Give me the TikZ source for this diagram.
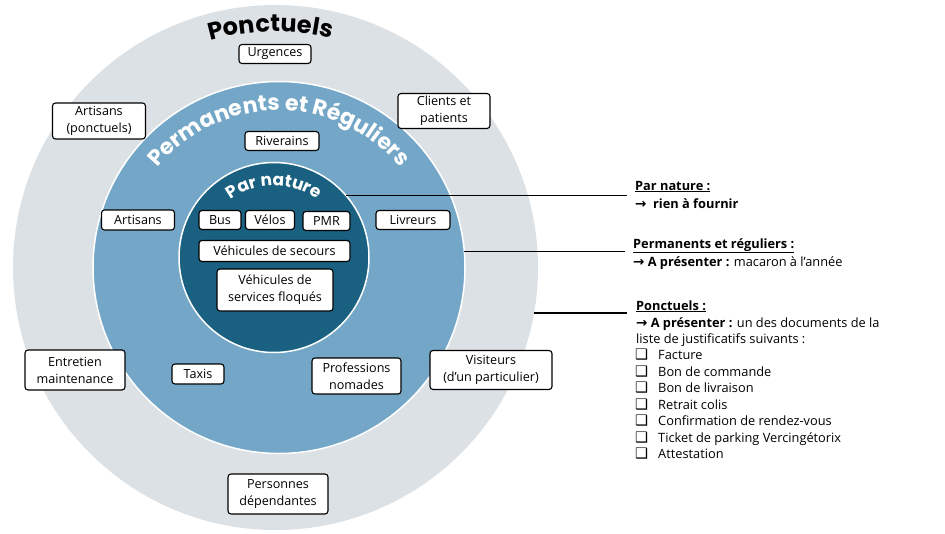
\documentclass[tikz,border=0pt]{standalone}
\usepackage{fontspec}
\setmainfont{Open Sans}
\newfontfamily\headfont{Poppins}
\newfontfamily\symfont{DejaVu Sans}
\usetikzlibrary{decorations.text,calc}
\definecolor{outerc}{RGB}{220,225,230}
\definecolor{midc}{RGB}{116,167,199}
\definecolor{innerc}{RGB}{26,96,128}
\begin{document}
\begin{tikzpicture}[x=1pt,y=-1pt,
  box/.style={draw=black, line width=1.1pt, fill=white, rounded corners=3pt, inner sep=0pt, align=center, font=\fontsize{12.6}{17}\selectfont},
  ring/.style={circle, inner sep=0pt, outer sep=0pt},
  leader/.style={draw=black, line width=1.2pt},
  rt/.style={anchor=base west, inner sep=0pt, font=\fontsize{12.8}{15}\selectfont},
  chk/.style={anchor=base west, inner sep=0pt, font=\symfont\fontsize{14.5}{14.5}\selectfont}]
\path[use as bounding box] (0,0) rectangle (945,533);
\begin{scope}
\clip (0,0) rectangle (945,533);
\node[ring, fill=outerc, minimum size=525pt] (outer) at (275.5,267.5) {};
\node[ring, fill=midc, draw=white, line width=1.5pt, minimum size=372pt] (mid) at (279,267.5) {};
\node[ring, fill=innerc, draw=white, line width=1.5pt, minimum size=190pt] (inner) at (274,257.5) {};
\end{scope}

% curved titles
\path[decorate, decoration={text along path, text align=center,
  text={|\headfont\bfseries\fontsize{24}{24}\selectfont|Ponctuels}}]
  ($(outer.center)+(238.8:236)$) arc[start angle=238.8, end angle=298.8, radius=236];
\path[decorate, decoration={text along path, text align=center,
  text={|\headfont\bfseries\fontsize{22}{22}\selectfont\color{white}|Permanents et Réguliers}}]
  ($(mid.center)+(195:157)$) arc[start angle=195, end angle=345, radius=157];
\path[decorate, decoration={text along path, text align=center,
  text={|\headfont\bfseries\fontsize{17}{17}\selectfont\color{white}|Par nature}}]
  ($(inner.center)+(200:72)$) arc[start angle=200, end angle=340, radius=72];

% boxes
\node[box, minimum width=72pt, minimum height=19pt] (urg) at (275,54) {Urgences};
\node[box, minimum width=93pt, minimum height=36pt] (artp) at (99,121) {Artisans\\(ponctuels)};
\node[box, minimum width=92pt, minimum height=35pt] (cli) at (444,111) {Clients et\\patients};
\node[box, minimum width=74pt, minimum height=19pt] (riv) at (282,141) {Riverains};
\node[box, minimum width=73pt, minimum height=20pt] (art) at (138,220) {Artisans};
\node[box, minimum width=42pt, minimum height=19pt] (bus) at (220,220) {Bus};
\node[box, minimum width=49pt, minimum height=19pt] (velo) at (270,220) {Vélos};
\node[box, minimum width=47pt, minimum height=19pt] (pmr) at (326.5,221) {PMR};
\node[box, minimum width=74pt, minimum height=19pt] (liv) at (413,220) {Livreurs};
\node[box, minimum width=151pt, minimum height=21pt] (secours) at (274.5,251) {Véhicules de secours};
\node[box, minimum width=116pt, minimum height=42pt] (floq) at (275,290) {Véhicules de\\services floqués};
\node[box, minimum width=100pt, minimum height=40pt] (entr) at (75,370) {Entretien\\maintenance};
\node[box, minimum width=52pt, minimum height=20pt] (taxi) at (198,374) {Taxis};
\node[box, minimum width=89pt, minimum height=36pt] (prof) at (356.5,376) {Professions\\nomades};
\node[box, minimum width=122pt, minimum height=39pt] (visi) at (491,370) {Visiteurs\\(d’un particulier)};
\node[box, minimum width=100pt, minimum height=40pt] (pers) at (278,494) {Personnes\\dépendantes};

% leaders
\coordinate (e1) at (627,195);
\coordinate (e2) at (625,250);
\coordinate (e3) at (627,313);
\draw[leader] (inner.41) -- (inner.41 -| e1);
\draw[leader] (mid.5.4) -- (mid.5.4 -| e2);
\draw[leader] (outer.-10) -- (outer.-10 -| e3);

% right texts
\node[rt] (t1) at (635,190) {\bfseries\underline{Par nature :}};
\node[rt] (t2) at (635,208) {{\symfont\bfseries\fontsize{13.5}{14}\selectfont →}\ \ \bfseries rien à fournir};
\node[rt] (t3) at (633,248) {\bfseries\underline{Permanents et réguliers :}};
\node[rt] (t4) at (633,266) {{\symfont\bfseries\fontsize{13.5}{14}\selectfont →} \textbf{A présenter :} macaron à l’année};
\node[rt] (t5) at (636,310) {\bfseries\underline{Ponctuels :}};
\node[rt] (t6) at (636,327) {{\symfont\bfseries\fontsize{13.5}{14}\selectfont →} \textbf{A présenter :} un des documents de la};
\node[rt] (t7) at (636,343) {liste de justificatifs suivants :};
\node[chk] (c1) at (635,359) {❑};
\node[rt] (l1) at (658,359) {Facture};
\node[chk] (c2) at (635,376) {❑};
\node[rt] (l2) at (658,376) {Bon de commande};
\node[chk] (c3) at (635,392) {❑};
\node[rt] (l3) at (658,392) {Bon de livraison};
\node[chk] (c4) at (635,409) {❑};
\node[rt] (l4) at (658,409) {Retrait colis};
\node[chk] (c5) at (635,425) {❑};
\node[rt] (l5) at (658,425) {Confirmation de rendez-vous};
\node[chk] (c6) at (635,442) {❑};
\node[rt] (l6) at (658,442) {Ticket de parking Vercingétorix};
\node[chk] (c7) at (635,458) {❑};
\node[rt] (l7) at (658,458) {Attestation};
\end{tikzpicture}
\end{document}
